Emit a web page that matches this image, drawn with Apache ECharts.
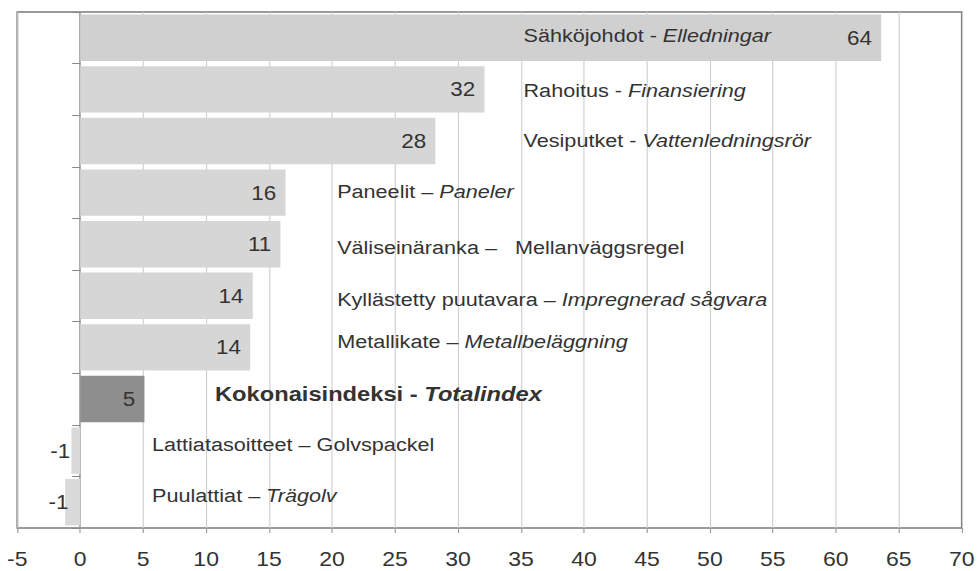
<!DOCTYPE html>
<html>
<head>
<meta charset="utf-8">
<script src="https://cdn.jsdelivr.net/npm/echarts@6/dist/echarts.min.js"></script>
<style>
html,body{margin:0;padding:0;background:#fff;overflow:hidden;}
#wrap{width:978px;height:571px;overflow:hidden;}
#c{width:850px;height:571px;transform:scaleX(1.1506);transform-origin:0 0;}
</style>
</head>
<body>
<div id="wrap"><div id="c"></div></div>
<script>
// ---- data ----
const categoriesFi = ['Sähköjohdot','Rahoitus','Vesiputket','Paneelit','Väliseinäranka','Kyllästetty puutavara','Metallikate','Kokonaisindeksi','Lattiatasoitteet','Puulattiat'];
const categoriesSv = ['Elledningar','Finansiering','Vattenledningsrör','Paneler','Mellanväggsregel','Impregnerad sågvara','Metallbeläggning','Totalindex','Golvspackel','Trägolv'];
const separators = [' - ',' - ',' - ',' – ',' –   ',' – ',' – ',' - ',' – ',' – '];
const svItalic = [true,true,true,true,false,true,true,true,false,true];
const barValues = [63.6,32.1,28.2,16.3,15.9,13.7,13.5,5.1,-0.7,-1.2];
const valueLabels = ['64','32','28','16','11','14','14','5','-1','-1'];
const xMin = -5, xMax = 70, xStep = 5;
const totalIndex = 7;

// ---- style ----
const FONT = '"Liberation Sans", Arial, sans-serif';
const TXT = '#333';
const nameAnchorX = [35.2,35.2,35.2,20.4,20.4,20.4,20.4,10.7,5.7,5.7];
const nameDy = [-2,1,0,-1,3,4,-6,-5,-6.5,-6.5];
const negLabelDist = [1,-3];

const chart = echarts.init(document.getElementById('c'), null, {renderer:'svg'});

let negCount = 0;
const data = barValues.map((v,i)=>({
  value: v,
  itemStyle: {color: i===totalIndex ? '#8e8e8e' : (i===0 ? '#d0d0d0' : (v<0 ? '#dadada' : '#d6d6d6'))},
  label: {
    show: true,
    formatter: valueLabels[i],
    position: v<0 ? 'left' : 'insideRight',
    distance: v<0 ? negLabelDist[Math.min(negCount++,1)] : 8,
    fontSize: 19.5,
    fontFamily: FONT,
    color: TXT
  }
}));

const option = {
  animation: false,
  backgroundColor: '#fff',
  grid: {left: 15, right: 10.4, top: 12, bottom: 43, show: true, borderColor: '#7a7a7a', borderWidth: 1.5, containLabel: false},
  xAxis: {
    type: 'value', min: xMin, max: xMax, interval: xStep,
    axisLine: {show: false},
    axisTick: {show: true, length: 5, lineStyle: {color: '#999'}},
    axisLabel: {fontSize: 20, fontFamily: FONT, color: TXT, margin: 21},
    splitLine: {show: true, lineStyle: {color: '#cfcfcf', width: 1}}
  },
  yAxis: {
    type: 'category', data: categoriesFi, inverse: true,
    axisLine: {show: true, onZero: true, lineStyle: {color: '#888', width: 1}},
    axisTick: {show: true, length: 7, lineStyle: {color: '#888'}},
    axisLabel: {show: false},
    splitLine: {show: false}
  },
  series: [{
    type: 'bar', data: data, barCategoryGap: '10%', z: 2
  }]
};
chart.setOption(option);

const graphics = categoriesFi.map((fi,i)=>{
  const p = chart.convertToPixel({gridIndex:0}, [nameAnchorX[i], i]);
  const bold = i===totalIndex;
  const fs = bold ? 20.6 : 18.8;
  return {
    type: 'text', x: p[0], y: p[1] + nameDy[i], z: 100,
    style: {
      text: '{n|' + fi + separators[i] + '}{s|' + categoriesSv[i] + '}',
      align: 'left', verticalAlign: 'middle',
      rich: {
        n: {fontSize: fs, fontWeight: bold ? 'bold' : 'normal', fontFamily: FONT, fill: TXT},
        s: {fontSize: fs, fontWeight: bold ? 'bold' : 'normal', fontStyle: svItalic[i] ? 'italic' : 'normal', fontFamily: FONT, fill: TXT}
      }
    }
  };
});
chart.setOption({graphic: graphics});
</script>
</body>
</html>
